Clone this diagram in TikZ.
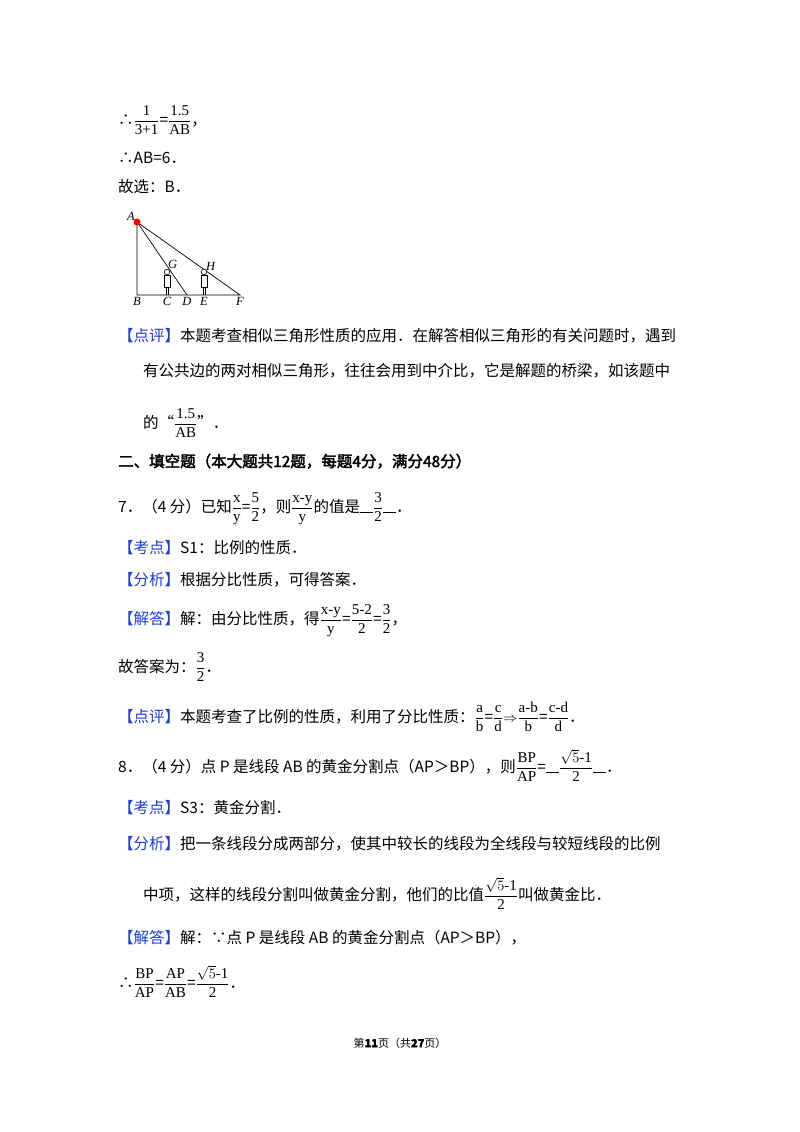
\documentclass[tikz,border=0pt]{standalone}
\usepackage{amsmath}
\usepackage{fontspec}
\setmainfont{Noto Sans CJK SC}
\newfontfamily\boldcjk{Noto Sans CJK SC}[FakeBold=2.5]
\newfontfamily\frf{Liberation Serif}
\usetikzlibrary{positioning}
\definecolor{tagblue}{RGB}{30,60,220}
\newcommand\tagbox[1]{\textcolor{tagblue}{【#1】}}
\newcommand\fr[2]{{\fontsize{15}{15}\selectfont\frf$\dfrac{\mbox{#1}}{\mbox{#2}}$}}
\newcommand\blank{\rule[-1pt]{13pt}{0.6pt}}
\begin{document}
\begin{tikzpicture}[
    x=1pt,y=-1pt,
    line/.style={anchor=base west,inner sep=0pt,font=\fontsize{15.5}{15.5}\selectfont},
    pt/.style={font=\fontsize{12.5}{12.5}\selectfont\itshape\frf,inner sep=1pt},
    person/.style={draw,line width=0.6pt,fill=white},
  ]
  \useasboundingbox (0,0) rectangle (800,1132);

  % solution of question 6
  \node[line] (l1) at (118,125) {∴\fr{1}{3+1}=\fr{1.5}{AB}，};
  \node[line] (l2) at (118,163) {∴AB=6．};
  \node[line] (l3) at (118,192) {故选：B．};

  % figure
  \coordinate (A) at (137,222);
  \coordinate (B) at (137,295);
  \coordinate (C) at (167,295);
  \coordinate (D) at (187,295);
  \coordinate (E) at (204,295);
  \coordinate (F) at (240,295);
  \coordinate (G) at (168,268);
  \coordinate (H) at (205,270);
  \draw[line width=0.7pt] (A) -- (B) -- (F) -- (A) -- (D);
  \foreach \p in {C,E} {
    \draw[line width=0.6pt] ([xshift=-1.2pt,yshift=8pt]\p) -- ([xshift=-1.2pt]\p);
    \draw[line width=0.6pt] ([xshift=1.2pt,yshift=8pt]\p) -- ([xshift=1.2pt]\p);
    \draw[person] ([xshift=-3pt,yshift=8pt]\p) rectangle ([xshift=3pt,yshift=20pt]\p);
    \draw[person] ([yshift=23pt]\p) circle (2.8pt);
  }
  \fill[red] (A) circle (3.5pt);
  \node[pt,left=1pt of A,yshift=6pt] {A};
  \foreach \p in {B,C,D,E,F} \node[pt,below=1pt of \p] {\p};
  \node[pt,above right=-2pt and -1pt of G] {G};
  \node[pt,above right=-2pt and 0pt of H] {H};

  % comment of question 6
  \node[line] (c1) at (118,341) {\tagbox{点评}本题考查相似三角形性质的应用．在解答相似三角形的有关问题时，遇到};
  \node[line] (c2) at (143,376) {有公共边的两对相似三角形，往往会用到中介比，它是解题的桥梁，如该题中};
  \node[line] (c3) at (143,428) {的“\fr{1.5}{AB}”．};

  % section heading
  \node[line] (sec) at (118,467) {\boldcjk 二、填空题（本大题共12题，每题4分，满分48分）};

  % question 7
  \node[line] (q7) at (118,512) {7．（4 分）已知\fr{x}{y}=\fr{5}{2}，则\fr{x-y}{y}的值是\blank\fr{3}{2}\blank．};
  \node[line] (q7a) at (118,553) {\tagbox{考点}S1：比例的性质．};
  \node[line] (q7b) at (118,585) {\tagbox{分析}根据分比性质，可得答案．};
  \node[line] (q7c) at (118,624) {\tagbox{解答}解：由分比性质，得\fr{x-y}{y}=\fr{5-2}{2}=\fr{3}{2}，};
  \node[line] (q7d) at (118,672) {故答案为：\fr{3}{2}．};
  \node[line] (q7e) at (118,722) {\tagbox{点评}本题考查了比例的性质，利用了分比性质：\fr{a}{b}=\fr{c}{d}$\Rightarrow$\fr{a-b}{b}=\fr{c-d}{d}．};

  % question 8
  \node[line] (q8) at (118,772) {8．（4 分）点 P 是线段 AB 的黄金分割点（AP＞BP），则\fr{BP}{AP}=\blank\fr{$\sqrt{5}$-1}{2}\blank．};
  \node[line] (q8a) at (118,813) {\tagbox{考点}S3：黄金分割．};
  \node[line] (q8b) at (118,849) {\tagbox{分析}把一条线段分成两部分，使其中较长的线段为全线段与较短线段的比例};
  \node[line] (q8c) at (143,900) {中项，这样的线段分割叫做黄金分割，他们的比值\fr{$\sqrt{5}$-1}{2}叫做黄金比．};
  \node[line] (q8d) at (118,943) {\tagbox{解答}解：∵点 P 是线段 AB 的黄金分割点（AP＞BP），};
  \node[line] (q8e) at (118,988) {∴\fr{BP}{AP}=\fr{AP}{AB}=\fr{$\sqrt{5}$-1}{2}．};

  % footer
  \node[font=\fontsize{11}{11}\selectfont,inner sep=0pt] (foot) at (400,1043) {第\textbf{\boldcjk 11}页（共\textbf{\boldcjk 27}页）};
\end{tikzpicture}
\end{document}
